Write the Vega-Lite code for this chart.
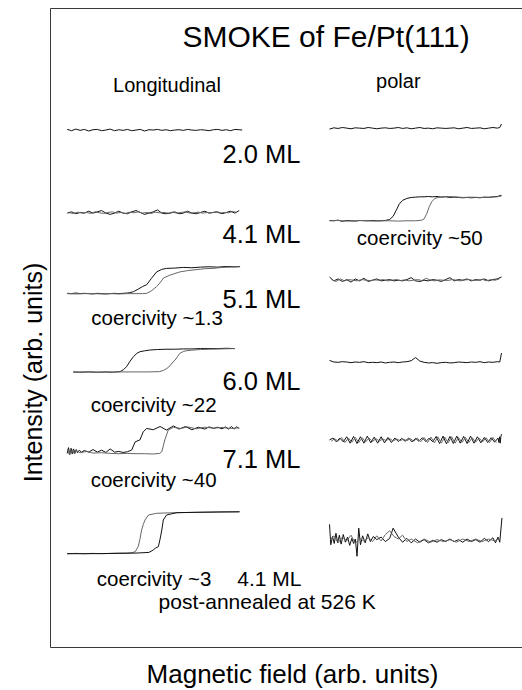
{
"$schema": "https://vega.github.io/schema/vega-lite/v6.json",
"width": 473,
"height": 639,
"autosize": {"type": "none"},
"padding": {"left": 50, "top": 8, "right": 0, "bottom": 43},
"background": "white",
"config": {"view": {"stroke": "#3a3a3a", "strokeWidth": 1}},
"datasets": {
"traces": [
{"id":"L20","br":"A","h":0,"m":81.0},{"id":"L20","br":"A","h":1,"m":80.8},{"id":"L20","br":"A","h":2,"m":81.05},{"id":"L20","br":"A","h":3,"m":80.85},{"id":"L20","br":"A","h":4,"m":81.0},{"id":"L20","br":"A","h":5,"m":80.75},{"id":"L20","br":"A","h":6,"m":80.95},{"id":"L20","br":"A","h":7,"m":81.0},{"id":"L20","br":"A","h":8,"m":80.8},{"id":"L20","br":"A","h":9,"m":80.9},{"id":"L20","br":"A","h":10,"m":81.05},{"id":"L20","br":"A","h":11,"m":80.8},{"id":"L20","br":"A","h":12,"m":80.95},{"id":"L20","br":"A","h":13,"m":80.85},{"id":"L20","br":"A","h":14,"m":81.0},{"id":"L20","br":"A","h":15,"m":80.8},{"id":"L20","br":"A","h":16,"m":80.9},{"id":"L20","br":"A","h":17,"m":81.0},{"id":"L20","br":"A","h":18,"m":80.75},{"id":"L20","br":"A","h":19,"m":80.95},{"id":"L20","br":"A","h":20,"m":80.9},{"id":"L20","br":"A","h":21,"m":81.0},{"id":"L20","br":"A","h":22,"m":80.85},{"id":"L20","br":"A","h":23,"m":80.95},{"id":"L20","br":"A","h":24,"m":80.8},{"id":"L20","br":"A","h":25,"m":80.9},{"id":"L20","br":"A","h":26,"m":80.95},{"id":"L20","br":"A","h":27,"m":80.85},{"id":"L20","br":"A","h":28,"m":81.0},{"id":"L20","br":"A","h":29,"m":80.9},{"id":"L20","br":"A","h":30,"m":80.85},{"id":"L20","br":"A","h":31,"m":80.95},{"id":"L20","br":"A","h":32,"m":80.9},{"id":"L20","br":"A","h":33,"m":80.8},{"id":"L20","br":"A","h":34,"m":80.95},{"id":"L20","br":"A","h":35,"m":81.0},{"id":"L20","br":"A","h":36,"m":80.85},{"id":"L20","br":"A","h":37,"m":80.95},{"id":"L20","br":"A","h":38,"m":80.8},{"id":"L20","br":"A","h":39,"m":81.0},{"id":"L20","br":"A","h":40,"m":80.95},{"id":"L20","br":"A","h":40.7,"m":80.9},

{"id":"P20","br":"A","h":61,"m":81.05},{"id":"P20","br":"A","h":62,"m":81.25},{"id":"P20","br":"A","h":63,"m":81.15},{"id":"P20","br":"A","h":64,"m":81.3},{"id":"P20","br":"A","h":65,"m":81.2},{"id":"P20","br":"A","h":66,"m":81.1},{"id":"P20","br":"A","h":67,"m":81.25},{"id":"P20","br":"A","h":68,"m":81.2},{"id":"P20","br":"A","h":69,"m":81.15},{"id":"P20","br":"A","h":70,"m":81.3},{"id":"P20","br":"A","h":71,"m":81.2},{"id":"P20","br":"A","h":72,"m":81.1},{"id":"P20","br":"A","h":73,"m":81.2},{"id":"P20","br":"A","h":74,"m":81.25},{"id":"P20","br":"A","h":75,"m":81.15},{"id":"P20","br":"A","h":76,"m":81.2},{"id":"P20","br":"A","h":77,"m":81.3},{"id":"P20","br":"A","h":78,"m":81.15},{"id":"P20","br":"A","h":79,"m":81.25},{"id":"P20","br":"A","h":80,"m":81.1},{"id":"P20","br":"A","h":81,"m":81.2},{"id":"P20","br":"A","h":82,"m":81.3},{"id":"P20","br":"A","h":83,"m":81.15},{"id":"P20","br":"A","h":84,"m":81.2},{"id":"P20","br":"A","h":85,"m":81.1},{"id":"P20","br":"A","h":86,"m":81.25},{"id":"P20","br":"A","h":87,"m":81.2},{"id":"P20","br":"A","h":88,"m":81.15},{"id":"P20","br":"A","h":89,"m":81.2},{"id":"P20","br":"A","h":90,"m":81.25},{"id":"P20","br":"A","h":91,"m":81.1},{"id":"P20","br":"A","h":92,"m":81.2},{"id":"P20","br":"A","h":93,"m":81.3},{"id":"P20","br":"A","h":94,"m":81.15},{"id":"P20","br":"A","h":95,"m":81.2},{"id":"P20","br":"A","h":96,"m":81.25},{"id":"P20","br":"A","h":97,"m":81.1},{"id":"P20","br":"A","h":98,"m":81.2},{"id":"P20","br":"A","h":99,"m":81.3},{"id":"P20","br":"A","h":100,"m":81.2},{"id":"P20","br":"A","h":100.6,"m":81.3},{"id":"P20","br":"A","h":101,"m":81.85},

{"id":"L41","br":"A","h":0,"m":67.9},{"id":"L41","br":"A","h":1,"m":68.1},{"id":"L41","br":"A","h":2,"m":67.8},{"id":"L41","br":"A","h":3,"m":68.0},{"id":"L41","br":"A","h":4,"m":67.9},{"id":"L41","br":"A","h":5,"m":68.2},{"id":"L41","br":"A","h":6,"m":67.9},{"id":"L41","br":"A","h":7,"m":68.1},{"id":"L41","br":"A","h":8,"m":68.3},{"id":"L41","br":"A","h":9,"m":67.9},{"id":"L41","br":"A","h":10,"m":67.7},{"id":"L41","br":"A","h":11,"m":67.9},{"id":"L41","br":"A","h":12,"m":68.2},{"id":"L41","br":"A","h":13,"m":67.9},{"id":"L41","br":"A","h":14,"m":67.8},{"id":"L41","br":"A","h":15,"m":68.1},{"id":"L41","br":"A","h":16,"m":68.3},{"id":"L41","br":"A","h":17,"m":68.0},{"id":"L41","br":"A","h":18,"m":67.7},{"id":"L41","br":"A","h":19,"m":67.9},{"id":"L41","br":"A","h":20,"m":68.1},{"id":"L41","br":"A","h":21,"m":68.4},{"id":"L41","br":"A","h":22,"m":67.9},{"id":"L41","br":"A","h":23,"m":67.8},{"id":"L41","br":"A","h":24,"m":67.9},{"id":"L41","br":"A","h":25,"m":68.1},{"id":"L41","br":"A","h":26,"m":67.8},{"id":"L41","br":"A","h":27,"m":67.9},{"id":"L41","br":"A","h":28,"m":68.2},{"id":"L41","br":"A","h":29,"m":67.9},{"id":"L41","br":"A","h":30,"m":67.8},{"id":"L41","br":"A","h":31,"m":68.0},{"id":"L41","br":"A","h":32,"m":68.2},{"id":"L41","br":"A","h":33,"m":67.9},{"id":"L41","br":"A","h":34,"m":68.0},{"id":"L41","br":"A","h":35,"m":68.1},{"id":"L41","br":"A","h":36,"m":67.8},{"id":"L41","br":"A","h":37,"m":68.0},{"id":"L41","br":"A","h":38,"m":68.2},{"id":"L41","br":"A","h":39,"m":67.9},{"id":"L41","br":"A","h":40,"m":68.3},
{"id":"L41b","br":"B","h":0.5,"m":67.95},{"id":"L41b","br":"B","h":1.5,"m":67.85},{"id":"L41b","br":"B","h":2.5,"m":68.05},{"id":"L41b","br":"B","h":3.5,"m":67.9},{"id":"L41b","br":"B","h":4.5,"m":68.0},{"id":"L41b","br":"B","h":5.5,"m":67.85},{"id":"L41b","br":"B","h":6.5,"m":68.1},{"id":"L41b","br":"B","h":7.5,"m":67.95},{"id":"L41b","br":"B","h":8.5,"m":67.85},{"id":"L41b","br":"B","h":9.5,"m":68.0},{"id":"L41b","br":"B","h":10.5,"m":68.1},{"id":"L41b","br":"B","h":11.5,"m":67.9},{"id":"L41b","br":"B","h":12.5,"m":68.0},{"id":"L41b","br":"B","h":13.5,"m":67.85},{"id":"L41b","br":"B","h":14.5,"m":68.05},{"id":"L41b","br":"B","h":15.5,"m":67.95},{"id":"L41b","br":"B","h":16.5,"m":68.1},{"id":"L41b","br":"B","h":17.5,"m":67.9},{"id":"L41b","br":"B","h":18.5,"m":68.0},{"id":"L41b","br":"B","h":19.5,"m":67.85},{"id":"L41b","br":"B","h":20.5,"m":68.05},{"id":"L41b","br":"B","h":21.5,"m":67.95},{"id":"L41b","br":"B","h":22.5,"m":68.0},{"id":"L41b","br":"B","h":23.5,"m":67.9},{"id":"L41b","br":"B","h":24.5,"m":68.05},{"id":"L41b","br":"B","h":25.5,"m":67.9},{"id":"L41b","br":"B","h":26.5,"m":68.0},{"id":"L41b","br":"B","h":27.5,"m":68.1},{"id":"L41b","br":"B","h":28.5,"m":67.9},{"id":"L41b","br":"B","h":29.5,"m":67.95},{"id":"L41b","br":"B","h":30.5,"m":68.05},{"id":"L41b","br":"B","h":31.5,"m":67.9},{"id":"L41b","br":"B","h":32.5,"m":68.0},{"id":"L41b","br":"B","h":33.5,"m":67.95},{"id":"L41b","br":"B","h":34.5,"m":68.1},{"id":"L41b","br":"B","h":35.5,"m":67.9},{"id":"L41b","br":"B","h":36.5,"m":68.0},{"id":"L41b","br":"B","h":37.5,"m":67.95},{"id":"L41b","br":"B","h":38.5,"m":68.15},{"id":"L41b","br":"B","h":39.5,"m":68.0},

{"id":"P41","br":"A","h":61,"m":66.75},{"id":"P41","br":"A","h":62,"m":66.7},{"id":"P41","br":"A","h":63,"m":66.8},{"id":"P41","br":"A","h":64,"m":66.6},{"id":"P41","br":"A","h":65,"m":66.75},{"id":"P41","br":"A","h":66,"m":66.7},{"id":"P41","br":"A","h":67,"m":66.65},{"id":"P41","br":"A","h":68,"m":66.75},{"id":"P41","br":"A","h":69,"m":66.7},{"id":"P41","br":"A","h":70,"m":66.7},{"id":"P41","br":"A","h":71,"m":66.75},{"id":"P41","br":"A","h":72,"m":66.7},{"id":"P41","br":"A","h":73,"m":66.7},{"id":"P41","br":"A","h":74,"m":66.75},{"id":"P41","br":"A","h":75,"m":66.9},{"id":"P41","br":"A","h":75.8,"m":67.4},{"id":"P41","br":"A","h":76.5,"m":68.3},{"id":"P41","br":"A","h":77.2,"m":69.3},{"id":"P41","br":"A","h":78,"m":69.9},{"id":"P41","br":"A","h":79,"m":70.2},{"id":"P41","br":"A","h":80,"m":70.35},{"id":"P41","br":"A","h":81,"m":70.4},{"id":"P41","br":"A","h":82,"m":70.45},{"id":"P41","br":"A","h":83,"m":70.45},{"id":"P41","br":"A","h":84,"m":70.5},{"id":"P41","br":"A","h":85,"m":70.45},{"id":"P41","br":"A","h":86,"m":70.5},{"id":"P41","br":"A","h":87,"m":70.4},{"id":"P41","br":"A","h":88,"m":70.45},{"id":"P41","br":"A","h":89,"m":70.35},{"id":"P41","br":"A","h":90,"m":70.4},{"id":"P41","br":"A","h":91,"m":70.35},{"id":"P41","br":"A","h":92,"m":70.3},{"id":"P41","br":"A","h":93,"m":70.35},{"id":"P41","br":"A","h":94,"m":70.3},{"id":"P41","br":"A","h":95,"m":70.35},{"id":"P41","br":"A","h":96,"m":70.3},{"id":"P41","br":"A","h":97,"m":70.4},{"id":"P41","br":"A","h":98,"m":70.35},{"id":"P41","br":"A","h":99,"m":70.45},{"id":"P41","br":"A","h":100,"m":70.5},{"id":"P41","br":"A","h":101,"m":70.7},
{"id":"P41b","br":"B","h":61,"m":66.7},{"id":"P41b","br":"B","h":63,"m":66.75},{"id":"P41b","br":"B","h":65,"m":66.65},{"id":"P41b","br":"B","h":67,"m":66.7},{"id":"P41b","br":"B","h":69,"m":66.75},{"id":"P41b","br":"B","h":71,"m":66.65},{"id":"P41b","br":"B","h":73,"m":66.7},{"id":"P41b","br":"B","h":75,"m":66.7},{"id":"P41b","br":"B","h":77,"m":66.65},{"id":"P41b","br":"B","h":79,"m":66.7},{"id":"P41b","br":"B","h":81,"m":66.7},{"id":"P41b","br":"B","h":82.5,"m":66.8},{"id":"P41b","br":"B","h":83,"m":67.0},{"id":"P41b","br":"B","h":83.6,"m":67.8},{"id":"P41b","br":"B","h":84.2,"m":68.9},{"id":"P41b","br":"B","h":84.8,"m":69.7},{"id":"P41b","br":"B","h":85.5,"m":70.2},{"id":"P41b","br":"B","h":86.5,"m":70.4},{"id":"P41b","br":"B","h":88,"m":70.5},{"id":"P41b","br":"B","h":90,"m":70.45},{"id":"P41b","br":"B","h":92,"m":70.35},{"id":"P41b","br":"B","h":94,"m":70.4},{"id":"P41b","br":"B","h":96,"m":70.35},{"id":"P41b","br":"B","h":98,"m":70.4},{"id":"P41b","br":"B","h":100,"m":70.45},{"id":"P41b","br":"B","h":101,"m":70.6},

{"id":"L51","br":"A","h":0,"m":55.35},{"id":"L51","br":"A","h":1,"m":55.3},{"id":"L51","br":"A","h":2,"m":55.4},{"id":"L51","br":"A","h":3,"m":55.3},{"id":"L51","br":"A","h":4,"m":55.35},{"id":"L51","br":"A","h":5,"m":55.3},{"id":"L51","br":"A","h":6,"m":55.25},{"id":"L51","br":"A","h":7,"m":55.35},{"id":"L51","br":"A","h":8,"m":55.3},{"id":"L51","br":"A","h":9,"m":55.25},{"id":"L51","br":"A","h":10,"m":55.3},{"id":"L51","br":"A","h":11,"m":55.35},{"id":"L51","br":"A","h":12,"m":55.3},{"id":"L51","br":"A","h":13,"m":55.35},{"id":"L51","br":"A","h":14,"m":55.4},{"id":"L51","br":"A","h":14.5,"m":55.45},{"id":"L51","br":"A","h":15.4,"m":55.6},{"id":"L51","br":"A","h":16.5,"m":56.0},{"id":"L51","br":"A","h":17.5,"m":56.4},{"id":"L51","br":"A","h":18.5,"m":56.7},{"id":"L51","br":"A","h":19.6,"m":57.7},{"id":"L51","br":"A","h":20.8,"m":58.7},{"id":"L51","br":"A","h":22,"m":59.1},{"id":"L51","br":"A","h":23.1,"m":59.25},{"id":"L51","br":"A","h":25,"m":59.3},{"id":"L51","br":"A","h":27,"m":59.4},{"id":"L51","br":"A","h":29,"m":59.35},{"id":"L51","br":"A","h":31,"m":59.45},{"id":"L51","br":"A","h":33,"m":59.5},{"id":"L51","br":"A","h":35,"m":59.45},{"id":"L51","br":"A","h":37,"m":59.55},{"id":"L51","br":"A","h":39,"m":59.5},{"id":"L51","br":"A","h":40.2,"m":59.55},
{"id":"L51b","br":"B","h":0,"m":55.3},{"id":"L51b","br":"B","h":2,"m":55.25},{"id":"L51b","br":"B","h":4,"m":55.3},{"id":"L51b","br":"B","h":6,"m":55.3},{"id":"L51b","br":"B","h":8,"m":55.25},{"id":"L51b","br":"B","h":10,"m":55.3},{"id":"L51b","br":"B","h":12,"m":55.25},{"id":"L51b","br":"B","h":14,"m":55.3},{"id":"L51b","br":"B","h":16,"m":55.3},{"id":"L51b","br":"B","h":17.5,"m":55.3},{"id":"L51b","br":"B","h":18.5,"m":55.35},{"id":"L51b","br":"B","h":19.5,"m":55.7},{"id":"L51b","br":"B","h":20.8,"m":56.4},{"id":"L51b","br":"B","h":21.6,"m":57.0},{"id":"L51b","br":"B","h":22.4,"m":57.75},{"id":"L51b","br":"B","h":23.9,"m":58.2},{"id":"L51b","br":"B","h":26.2,"m":58.7},{"id":"L51b","br":"B","h":28,"m":58.9},{"id":"L51b","br":"B","h":30,"m":59.05},{"id":"L51b","br":"B","h":32,"m":59.2},{"id":"L51b","br":"B","h":33.9,"m":59.25},{"id":"L51b","br":"B","h":36,"m":59.4},{"id":"L51b","br":"B","h":38,"m":59.45},{"id":"L51b","br":"B","h":40.2,"m":59.5},

{"id":"P51","br":"A","h":61,"m":57.9},{"id":"P51","br":"A","h":62,"m":57.3},{"id":"P51","br":"A","h":63,"m":57.6},{"id":"P51","br":"A","h":64,"m":57.2},{"id":"P51","br":"A","h":65,"m":57.5},{"id":"P51","br":"A","h":66,"m":57.1},{"id":"P51","br":"A","h":67,"m":57.6},{"id":"P51","br":"A","h":68,"m":57.3},{"id":"P51","br":"A","h":69,"m":57.7},{"id":"P51","br":"A","h":70,"m":57.2},{"id":"P51","br":"A","h":71,"m":57.4},{"id":"P51","br":"A","h":72,"m":57.6},{"id":"P51","br":"A","h":73,"m":57.3},{"id":"P51","br":"A","h":74,"m":57.4},{"id":"P51","br":"A","h":75,"m":57.5},{"id":"P51","br":"A","h":76,"m":57.3},{"id":"P51","br":"A","h":77,"m":57.4},{"id":"P51","br":"A","h":78,"m":57.3},{"id":"P51","br":"A","h":79,"m":57.5},{"id":"P51","br":"A","h":80,"m":57.8},{"id":"P51","br":"A","h":81,"m":57.3},{"id":"P51","br":"A","h":82,"m":57.2},{"id":"P51","br":"A","h":83,"m":57.4},{"id":"P51","br":"A","h":84,"m":57.3},{"id":"P51","br":"A","h":85,"m":57.5},{"id":"P51","br":"A","h":86,"m":57.4},{"id":"P51","br":"A","h":87,"m":57.2},{"id":"P51","br":"A","h":88,"m":57.5},{"id":"P51","br":"A","h":89,"m":57.8},{"id":"P51","br":"A","h":90,"m":57.3},{"id":"P51","br":"A","h":91,"m":57.5},{"id":"P51","br":"A","h":92,"m":57.4},{"id":"P51","br":"A","h":93,"m":57.6},{"id":"P51","br":"A","h":94,"m":57.3},{"id":"P51","br":"A","h":95,"m":57.5},{"id":"P51","br":"A","h":96,"m":57.4},{"id":"P51","br":"A","h":97,"m":57.6},{"id":"P51","br":"A","h":98,"m":57.3},{"id":"P51","br":"A","h":99,"m":57.5},{"id":"P51","br":"A","h":100,"m":57.6},{"id":"P51","br":"A","h":101,"m":57.9},
{"id":"P51b","br":"B","h":61.5,"m":57.5},{"id":"P51b","br":"B","h":62.5,"m":57.2},{"id":"P51b","br":"B","h":63.5,"m":57.6},{"id":"P51b","br":"B","h":64.5,"m":57.3},{"id":"P51b","br":"B","h":65.5,"m":57.5},{"id":"P51b","br":"B","h":66.5,"m":57.4},{"id":"P51b","br":"B","h":67.5,"m":57.3},{"id":"P51b","br":"B","h":68.5,"m":57.5},{"id":"P51b","br":"B","h":69.5,"m":57.4},{"id":"P51b","br":"B","h":70.5,"m":57.35},{"id":"P51b","br":"B","h":71.5,"m":57.45},{"id":"P51b","br":"B","h":72.5,"m":57.4},{"id":"P51b","br":"B","h":73.5,"m":57.5},{"id":"P51b","br":"B","h":74.5,"m":57.3},{"id":"P51b","br":"B","h":75.5,"m":57.4},{"id":"P51b","br":"B","h":76.5,"m":57.5},{"id":"P51b","br":"B","h":77.5,"m":57.35},{"id":"P51b","br":"B","h":78.5,"m":57.45},{"id":"P51b","br":"B","h":79.5,"m":57.3},{"id":"P51b","br":"B","h":80.5,"m":57.4},{"id":"P51b","br":"B","h":81.5,"m":57.5},{"id":"P51b","br":"B","h":82.5,"m":57.35},{"id":"P51b","br":"B","h":83.5,"m":57.7},{"id":"P51b","br":"B","h":84.5,"m":57.4},{"id":"P51b","br":"B","h":85.5,"m":57.3},{"id":"P51b","br":"B","h":86.5,"m":57.45},{"id":"P51b","br":"B","h":87.5,"m":57.4},{"id":"P51b","br":"B","h":88.5,"m":57.35},{"id":"P51b","br":"B","h":89.5,"m":57.5},{"id":"P51b","br":"B","h":90.5,"m":57.4},{"id":"P51b","br":"B","h":91.5,"m":57.3},{"id":"P51b","br":"B","h":92.5,"m":57.45},{"id":"P51b","br":"B","h":93.5,"m":57.5},{"id":"P51b","br":"B","h":94.5,"m":57.35},{"id":"P51b","br":"B","h":95.5,"m":57.4},{"id":"P51b","br":"B","h":96.5,"m":57.55},{"id":"P51b","br":"B","h":97.5,"m":57.3},{"id":"P51b","br":"B","h":98.5,"m":57.5},{"id":"P51b","br":"B","h":99.5,"m":57.4},{"id":"P51b","br":"B","h":100.5,"m":57.6},

{"id":"L60","br":"A","h":1.4,"m":43.05},{"id":"L60","br":"A","h":3,"m":43.0},{"id":"L60","br":"A","h":5,"m":43.05},{"id":"L60","br":"A","h":7,"m":43.0},{"id":"L60","br":"A","h":9,"m":43.05},{"id":"L60","br":"A","h":10.5,"m":43.0},{"id":"L60","br":"A","h":11.5,"m":43.05},{"id":"L60","br":"A","h":12.3,"m":43.1},{"id":"L60","br":"A","h":13.1,"m":43.4},{"id":"L60","br":"A","h":13.8,"m":43.87},{"id":"L60","br":"A","h":14.6,"m":44.7},{"id":"L60","br":"A","h":15.4,"m":45.43},{"id":"L60","br":"A","h":16.2,"m":45.95},{"id":"L60","br":"A","h":16.9,"m":46.21},{"id":"L60","br":"A","h":18,"m":46.35},{"id":"L60","br":"A","h":19.3,"m":46.48},{"id":"L60","br":"A","h":21,"m":46.55},{"id":"L60","br":"A","h":23,"m":46.6},{"id":"L60","br":"A","h":25,"m":46.6},{"id":"L60","br":"A","h":27,"m":46.65},{"id":"L60","br":"A","h":29,"m":46.65},{"id":"L60","br":"A","h":31,"m":46.7},{"id":"L60","br":"A","h":33,"m":46.7},{"id":"L60","br":"A","h":35,"m":46.7},{"id":"L60","br":"A","h":37,"m":46.75},{"id":"L60","br":"A","h":39,"m":46.7},
{"id":"L60b","br":"B","h":1.4,"m":43.0},{"id":"L60b","br":"B","h":4,"m":43.05},{"id":"L60b","br":"B","h":8,"m":43.0},{"id":"L60b","br":"B","h":12,"m":43.05},{"id":"L60b","br":"B","h":16,"m":43.05},{"id":"L60b","br":"B","h":19,"m":43.05},{"id":"L60b","br":"B","h":21.5,"m":43.1},{"id":"L60b","br":"B","h":22.4,"m":43.3},{"id":"L60b","br":"B","h":23.2,"m":43.6},{"id":"L60b","br":"B","h":23.9,"m":44.0},{"id":"L60b","br":"B","h":24.6,"m":44.6},{"id":"L60b","br":"B","h":25.1,"m":44.91},{"id":"L60b","br":"B","h":25.7,"m":45.5},{"id":"L60b","br":"B","h":26.2,"m":45.96},{"id":"L60b","br":"B","h":27,"m":46.25},{"id":"L60b","br":"B","h":27.8,"m":46.37},{"id":"L60b","br":"B","h":29,"m":46.45},{"id":"L60b","br":"B","h":31,"m":46.55},{"id":"L60b","br":"B","h":33,"m":46.6},{"id":"L60b","br":"B","h":36,"m":46.65},{"id":"L60b","br":"B","h":39,"m":46.7},

{"id":"P60","br":"A","h":61,"m":44.85},{"id":"P60","br":"A","h":62,"m":44.6},{"id":"P60","br":"A","h":63,"m":44.55},{"id":"P60","br":"A","h":64,"m":44.65},{"id":"P60","br":"A","h":65,"m":44.6},{"id":"P60","br":"A","h":66,"m":44.5},{"id":"P60","br":"A","h":67,"m":44.6},{"id":"P60","br":"A","h":68,"m":44.55},{"id":"P60","br":"A","h":69,"m":44.65},{"id":"P60","br":"A","h":70,"m":44.5},{"id":"P60","br":"A","h":71,"m":44.55},{"id":"P60","br":"A","h":72,"m":44.5},{"id":"P60","br":"A","h":73,"m":44.6},{"id":"P60","br":"A","h":74,"m":44.45},{"id":"P60","br":"A","h":75,"m":44.55},{"id":"P60","br":"A","h":76,"m":44.6},{"id":"P60","br":"A","h":77,"m":44.5},{"id":"P60","br":"A","h":78,"m":44.6},{"id":"P60","br":"A","h":79,"m":44.65},{"id":"P60","br":"A","h":80,"m":44.8},{"id":"P60","br":"A","h":81,"m":45.3},{"id":"P60","br":"A","h":82,"m":44.75},{"id":"P60","br":"A","h":83,"m":44.55},{"id":"P60","br":"A","h":84,"m":44.45},{"id":"P60","br":"A","h":85,"m":44.5},{"id":"P60","br":"A","h":86,"m":44.4},{"id":"P60","br":"A","h":87,"m":44.5},{"id":"P60","br":"A","h":88,"m":44.55},{"id":"P60","br":"A","h":89,"m":44.45},{"id":"P60","br":"A","h":90,"m":44.5},{"id":"P60","br":"A","h":91,"m":44.6},{"id":"P60","br":"A","h":92,"m":44.55},{"id":"P60","br":"A","h":93,"m":44.5},{"id":"P60","br":"A","h":94,"m":44.6},{"id":"P60","br":"A","h":95,"m":44.55},{"id":"P60","br":"A","h":96,"m":44.65},{"id":"P60","br":"A","h":97,"m":44.5},{"id":"P60","br":"A","h":98,"m":44.6},{"id":"P60","br":"A","h":99,"m":44.55},{"id":"P60","br":"A","h":100,"m":44.65},{"id":"P60","br":"A","h":100.6,"m":44.6},{"id":"P60","br":"A","h":101,"m":46.0},

{"id":"L71","br":"A","h":0,"m":30.3},{"id":"L71","br":"A","h":0.3,"m":31.2},{"id":"L71","br":"A","h":0.6,"m":30.1},{"id":"L71","br":"A","h":0.9,"m":31.1},{"id":"L71","br":"A","h":1.2,"m":30.2},{"id":"L71","br":"A","h":1.5,"m":31.0},{"id":"L71","br":"A","h":1.8,"m":30.3},{"id":"L71","br":"A","h":2.1,"m":30.9},{"id":"L71","br":"A","h":2.4,"m":30.4},{"id":"L71","br":"A","h":2.8,"m":30.8},{"id":"L71","br":"A","h":3.3,"m":30.5},{"id":"L71","br":"A","h":4,"m":30.75},{"id":"L71","br":"A","h":5,"m":30.5},{"id":"L71","br":"A","h":6,"m":30.9},{"id":"L71","br":"A","h":7,"m":30.5},{"id":"L71","br":"A","h":8,"m":30.8},{"id":"L71","br":"A","h":9,"m":30.45},{"id":"L71","br":"A","h":10,"m":31.0},{"id":"L71","br":"A","h":11,"m":30.5},{"id":"L71","br":"A","h":12,"m":30.6},{"id":"L71","br":"A","h":13,"m":30.45},{"id":"L71","br":"A","h":14,"m":30.55},{"id":"L71","br":"A","h":15,"m":30.83},{"id":"L71","br":"A","h":15.8,"m":32.1},{"id":"L71","br":"A","h":16.9,"m":32.4},{"id":"L71","br":"A","h":17.7,"m":33.7},{"id":"L71","br":"A","h":18.5,"m":34.2},{"id":"L71","br":"A","h":20,"m":34.0},{"id":"L71","br":"A","h":21.6,"m":34.5},{"id":"L71","br":"A","h":23.1,"m":33.95},{"id":"L71","br":"A","h":24.7,"m":34.6},{"id":"L71","br":"A","h":26,"m":34.1},{"id":"L71","br":"A","h":27.5,"m":34.5},{"id":"L71","br":"A","h":29,"m":34.0},{"id":"L71","br":"A","h":30.5,"m":34.4},{"id":"L71","br":"A","h":32,"m":34.1},{"id":"L71","br":"A","h":33,"m":34.45},{"id":"L71","br":"A","h":34,"m":34.2},{"id":"L71","br":"A","h":35,"m":34.4},{"id":"L71","br":"A","h":36,"m":34.15},{"id":"L71","br":"A","h":36.8,"m":34.45},{"id":"L71","br":"A","h":37.5,"m":34.1},{"id":"L71","br":"A","h":38.2,"m":34.5},{"id":"L71","br":"A","h":38.8,"m":34.1},{"id":"L71","br":"A","h":39.4,"m":34.45},{"id":"L71","br":"A","h":40,"m":34.2},
{"id":"L71b","br":"B","h":0.15,"m":30.9},{"id":"L71b","br":"B","h":0.45,"m":30.2},{"id":"L71b","br":"B","h":0.75,"m":31.0},{"id":"L71b","br":"B","h":1.05,"m":30.3},{"id":"L71b","br":"B","h":1.35,"m":30.9},{"id":"L71b","br":"B","h":1.65,"m":30.2},{"id":"L71b","br":"B","h":2,"m":30.8},{"id":"L71b","br":"B","h":3,"m":30.4},{"id":"L71b","br":"B","h":4.5,"m":30.6},{"id":"L71b","br":"B","h":6,"m":30.35},{"id":"L71b","br":"B","h":8,"m":30.4},{"id":"L71b","br":"B","h":10,"m":30.3},{"id":"L71b","br":"B","h":12,"m":30.25},{"id":"L71b","br":"B","h":14,"m":30.3},{"id":"L71b","br":"B","h":16,"m":30.25},{"id":"L71b","br":"B","h":18,"m":30.25},{"id":"L71b","br":"B","h":20,"m":30.2},{"id":"L71b","br":"B","h":21.5,"m":30.3},{"id":"L71b","br":"B","h":22,"m":30.56},{"id":"L71b","br":"B","h":22.7,"m":32.4},{"id":"L71b","br":"B","h":23.5,"m":33.96},{"id":"L71b","br":"B","h":24.7,"m":34.38},{"id":"L71b","br":"B","h":26.5,"m":34.2},{"id":"L71b","br":"B","h":28,"m":34.45},{"id":"L71b","br":"B","h":30,"m":34.15},{"id":"L71b","br":"B","h":32,"m":34.4},{"id":"L71b","br":"B","h":34,"m":34.25},{"id":"L71b","br":"B","h":36,"m":34.35},{"id":"L71b","br":"B","h":38,"m":34.2},{"id":"L71b","br":"B","h":40,"m":34.3},

{"id":"P71","br":"A","h":61,"m":32.4},{"id":"P71","br":"A","h":61.8,"m":32.7},{"id":"P71","br":"A","h":62.6,"m":32.1},{"id":"P71","br":"A","h":63.4,"m":32.7},{"id":"P71","br":"A","h":64.2,"m":32.1},{"id":"P71","br":"A","h":65,"m":32.9},{"id":"P71","br":"A","h":65.8,"m":31.9},{"id":"P71","br":"A","h":66.6,"m":32.95},{"id":"P71","br":"A","h":67.4,"m":31.85},{"id":"P71","br":"A","h":68.2,"m":32.9},{"id":"P71","br":"A","h":69,"m":31.9},{"id":"P71","br":"A","h":69.8,"m":33.0},{"id":"P71","br":"A","h":70.6,"m":31.95},{"id":"P71","br":"A","h":71.4,"m":32.85},{"id":"P71","br":"A","h":72.2,"m":31.9},{"id":"P71","br":"A","h":73,"m":32.9},{"id":"P71","br":"A","h":73.8,"m":31.95},{"id":"P71","br":"A","h":74.6,"m":32.8},{"id":"P71","br":"A","h":75.4,"m":32.0},{"id":"P71","br":"A","h":76.2,"m":32.7},{"id":"P71","br":"A","h":77,"m":32.15},{"id":"P71","br":"A","h":77.8,"m":32.65},{"id":"P71","br":"A","h":78.6,"m":32.2},{"id":"P71","br":"A","h":79.4,"m":32.7},{"id":"P71","br":"A","h":80.2,"m":32.1},{"id":"P71","br":"A","h":81,"m":32.65},{"id":"P71","br":"A","h":81.8,"m":32.2},{"id":"P71","br":"A","h":82.6,"m":32.75},{"id":"P71","br":"A","h":83.4,"m":32.15},{"id":"P71","br":"A","h":84.2,"m":32.7},{"id":"P71","br":"A","h":85,"m":32.1},{"id":"P71","br":"A","h":85.8,"m":32.95},{"id":"P71","br":"A","h":86.6,"m":31.85},{"id":"P71","br":"A","h":87.4,"m":33.0},{"id":"P71","br":"A","h":88.2,"m":31.8},{"id":"P71","br":"A","h":89,"m":32.95},{"id":"P71","br":"A","h":89.8,"m":31.85},{"id":"P71","br":"A","h":90.6,"m":33.0},{"id":"P71","br":"A","h":91.4,"m":31.9},{"id":"P71","br":"A","h":92.2,"m":32.95},{"id":"P71","br":"A","h":93,"m":31.85},{"id":"P71","br":"A","h":93.8,"m":33.0},{"id":"P71","br":"A","h":94.6,"m":31.9},{"id":"P71","br":"A","h":95.4,"m":32.9},{"id":"P71","br":"A","h":96.2,"m":31.95},{"id":"P71","br":"A","h":97,"m":32.8},{"id":"P71","br":"A","h":97.8,"m":32.0},{"id":"P71","br":"A","h":98.6,"m":32.75},{"id":"P71","br":"A","h":99.4,"m":32.05},{"id":"P71","br":"A","h":100.2,"m":32.7},{"id":"P71","br":"A","h":100.4,"m":32.0},{"id":"P71","br":"A","h":100.55,"m":32.9},{"id":"P71","br":"A","h":100.7,"m":31.9},{"id":"P71","br":"A","h":100.85,"m":32.9},{"id":"P71","br":"A","h":101,"m":33.3},
{"id":"P71b","br":"B","h":61.4,"m":32.2},{"id":"P71b","br":"B","h":62.2,"m":32.6},{"id":"P71b","br":"B","h":63,"m":32.2},{"id":"P71b","br":"B","h":63.8,"m":32.8},{"id":"P71b","br":"B","h":64.6,"m":32.0},{"id":"P71b","br":"B","h":65.4,"m":32.7},{"id":"P71b","br":"B","h":66.2,"m":32.05},{"id":"P71b","br":"B","h":67,"m":32.8},{"id":"P71b","br":"B","h":67.8,"m":32.0},{"id":"P71b","br":"B","h":68.6,"m":32.75},{"id":"P71b","br":"B","h":69.4,"m":32.1},{"id":"P71b","br":"B","h":70.2,"m":32.7},{"id":"P71b","br":"B","h":71,"m":32.15},{"id":"P71b","br":"B","h":71.8,"m":32.6},{"id":"P71b","br":"B","h":72.6,"m":32.25},{"id":"P71b","br":"B","h":73.4,"m":32.55},{"id":"P71b","br":"B","h":74.2,"m":32.3},{"id":"P71b","br":"B","h":75,"m":32.6},{"id":"P71b","br":"B","h":75.8,"m":32.25},{"id":"P71b","br":"B","h":76.6,"m":32.55},{"id":"P71b","br":"B","h":77.4,"m":32.3},{"id":"P71b","br":"B","h":78.2,"m":32.5},{"id":"P71b","br":"B","h":79,"m":32.3},{"id":"P71b","br":"B","h":79.8,"m":32.6},{"id":"P71b","br":"B","h":80.6,"m":32.2},{"id":"P71b","br":"B","h":81.4,"m":32.7},{"id":"P71b","br":"B","h":82.2,"m":32.1},{"id":"P71b","br":"B","h":83,"m":32.8},{"id":"P71b","br":"B","h":83.8,"m":32.0},{"id":"P71b","br":"B","h":84.6,"m":32.85},{"id":"P71b","br":"B","h":85.4,"m":31.95},{"id":"P71b","br":"B","h":86.2,"m":32.9},{"id":"P71b","br":"B","h":87,"m":31.9},{"id":"P71b","br":"B","h":87.8,"m":32.85},{"id":"P71b","br":"B","h":88.6,"m":31.95},{"id":"P71b","br":"B","h":89.4,"m":32.9},{"id":"P71b","br":"B","h":90.2,"m":31.9},{"id":"P71b","br":"B","h":91,"m":32.8},{"id":"P71b","br":"B","h":91.8,"m":32.0},{"id":"P71b","br":"B","h":92.6,"m":32.8},{"id":"P71b","br":"B","h":93.4,"m":32.0},{"id":"P71b","br":"B","h":94.2,"m":32.75},{"id":"P71b","br":"B","h":95,"m":32.05},{"id":"P71b","br":"B","h":95.8,"m":32.7},{"id":"P71b","br":"B","h":96.6,"m":32.1},{"id":"P71b","br":"B","h":97.4,"m":32.75},{"id":"P71b","br":"B","h":98.2,"m":32.0},{"id":"P71b","br":"B","h":99,"m":32.8},{"id":"P71b","br":"B","h":99.8,"m":32.0},

{"id":"LA","br":"B","h":0,"m":14.6},{"id":"LA","br":"B","h":2,"m":14.65},{"id":"LA","br":"B","h":4,"m":14.6},{"id":"LA","br":"B","h":6,"m":14.65},{"id":"LA","br":"B","h":8,"m":14.6},{"id":"LA","br":"B","h":10,"m":14.65},{"id":"LA","br":"B","h":12,"m":14.7},{"id":"LA","br":"B","h":14,"m":14.7},{"id":"LA","br":"B","h":15,"m":14.75},{"id":"LA","br":"B","h":15.8,"m":14.91},{"id":"LA","br":"B","h":16.5,"m":15.7},{"id":"LA","br":"B","h":16.9,"m":16.8},{"id":"LA","br":"B","h":17.3,"m":18.3},{"id":"LA","br":"B","h":17.7,"m":19.2},{"id":"LA","br":"B","h":18.1,"m":19.87},{"id":"LA","br":"B","h":18.9,"m":20.66},{"id":"LA","br":"B","h":20.8,"m":20.92},{"id":"LA","br":"B","h":24,"m":21.0},{"id":"LA","br":"B","h":28,"m":21.05},{"id":"LA","br":"B","h":32,"m":21.1},{"id":"LA","br":"B","h":36,"m":21.15},{"id":"LA","br":"B","h":40.2,"m":21.17},
{"id":"LAb","br":"A","h":0,"m":14.6},{"id":"LAb","br":"A","h":4,"m":14.6},{"id":"LAb","br":"A","h":8,"m":14.62},{"id":"LAb","br":"A","h":12,"m":14.65},{"id":"LAb","br":"A","h":16,"m":14.7},{"id":"LAb","br":"A","h":19,"m":14.8},{"id":"LAb","br":"A","h":20,"m":15.18},{"id":"LAb","br":"A","h":20.6,"m":15.5},{"id":"LAb","br":"A","h":21.2,"m":15.7},{"id":"LAb","br":"A","h":21.6,"m":16.9},{"id":"LAb","br":"A","h":22,"m":18.31},{"id":"LAb","br":"A","h":22.35,"m":19.87},{"id":"LAb","br":"A","h":23.1,"m":20.66},{"id":"LAb","br":"A","h":25.5,"m":21.02},{"id":"LAb","br":"A","h":30,"m":21.08},{"id":"LAb","br":"A","h":35,"m":21.12},{"id":"LAb","br":"A","h":40,"m":21.15},

{"id":"PA","br":"A","h":61,"m":19.2},{"id":"PA","br":"A","h":61.3,"m":16.0},{"id":"PA","br":"A","h":61.7,"m":17.3},{"id":"PA","br":"A","h":62.1,"m":16.2},{"id":"PA","br":"A","h":62.5,"m":17.8},{"id":"PA","br":"A","h":62.9,"m":16.3},{"id":"PA","br":"A","h":63.3,"m":17.5},{"id":"PA","br":"A","h":63.7,"m":16.1},{"id":"PA","br":"A","h":64.2,"m":17.6},{"id":"PA","br":"A","h":64.7,"m":16.4},{"id":"PA","br":"A","h":65.2,"m":17.2},{"id":"PA","br":"A","h":65.7,"m":15.9},{"id":"PA","br":"A","h":66.2,"m":17.0},{"id":"PA","br":"A","h":66.6,"m":16.2},{"id":"PA","br":"A","h":67.0,"m":16.9},{"id":"PA","br":"A","h":67.4,"m":14.2},{"id":"PA","br":"A","h":67.8,"m":18.6},{"id":"PA","br":"A","h":68.2,"m":16.0},{"id":"PA","br":"A","h":68.7,"m":17.4},{"id":"PA","br":"A","h":69.3,"m":16.3},{"id":"PA","br":"A","h":69.9,"m":17.7},{"id":"PA","br":"A","h":70.5,"m":16.5},{"id":"PA","br":"A","h":71.2,"m":17.3},{"id":"PA","br":"A","h":72,"m":16.8},{"id":"PA","br":"A","h":73,"m":17.2},{"id":"PA","br":"A","h":74,"m":16.5},{"id":"PA","br":"A","h":75,"m":17.0},{"id":"PA","br":"A","h":75.8,"m":18.6},{"id":"PA","br":"A","h":77,"m":17.2},{"id":"PA","br":"A","h":78,"m":16.4},{"id":"PA","br":"A","h":79,"m":17.0},{"id":"PA","br":"A","h":80,"m":16.3},{"id":"PA","br":"A","h":81,"m":16.9},{"id":"PA","br":"A","h":82,"m":16.4},{"id":"PA","br":"A","h":83,"m":16.8},{"id":"PA","br":"A","h":84,"m":16.3},{"id":"PA","br":"A","h":85,"m":16.7},{"id":"PA","br":"A","h":86,"m":16.4},{"id":"PA","br":"A","h":87,"m":16.8},{"id":"PA","br":"A","h":88,"m":16.5},{"id":"PA","br":"A","h":89,"m":16.9},{"id":"PA","br":"A","h":90,"m":16.5},{"id":"PA","br":"A","h":91,"m":16.8},{"id":"PA","br":"A","h":92,"m":16.4},{"id":"PA","br":"A","h":93,"m":16.9},{"id":"PA","br":"A","h":94,"m":16.5},{"id":"PA","br":"A","h":95,"m":16.8},{"id":"PA","br":"A","h":96,"m":16.4},{"id":"PA","br":"A","h":97,"m":17.0},{"id":"PA","br":"A","h":98,"m":16.5},{"id":"PA","br":"A","h":99,"m":17.1},{"id":"PA","br":"A","h":99.6,"m":16.3},{"id":"PA","br":"A","h":100.2,"m":17.2},{"id":"PA","br":"A","h":100.6,"m":16.4},{"id":"PA","br":"A","h":101.1,"m":20.2},
{"id":"PAb","br":"B","h":61.2,"m":16.8},{"id":"PAb","br":"B","h":62,"m":17.4},{"id":"PAb","br":"B","h":63,"m":16.3},{"id":"PAb","br":"B","h":64,"m":17.2},{"id":"PAb","br":"B","h":65,"m":16.6},{"id":"PAb","br":"B","h":66,"m":17.5},{"id":"PAb","br":"B","h":67,"m":16.2},{"id":"PAb","br":"B","h":68,"m":17.0},{"id":"PAb","br":"B","h":69,"m":16.6},{"id":"PAb","br":"B","h":70,"m":17.1},{"id":"PAb","br":"B","h":71,"m":16.5},{"id":"PAb","br":"B","h":72,"m":17.4},{"id":"PAb","br":"B","h":73,"m":16.6},{"id":"PAb","br":"B","h":74,"m":17.6},{"id":"PAb","br":"B","h":75,"m":18.2},{"id":"PAb","br":"B","h":76,"m":17.3},{"id":"PAb","br":"B","h":77,"m":16.9},{"id":"PAb","br":"B","h":78,"m":17.5},{"id":"PAb","br":"B","h":79,"m":16.5},{"id":"PAb","br":"B","h":80,"m":16.9},{"id":"PAb","br":"B","h":81.5,"m":16.3},{"id":"PAb","br":"B","h":83,"m":16.9},{"id":"PAb","br":"B","h":84.5,"m":16.4},{"id":"PAb","br":"B","h":86,"m":16.8},{"id":"PAb","br":"B","h":87.5,"m":16.5},{"id":"PAb","br":"B","h":89,"m":16.8},{"id":"PAb","br":"B","h":90.5,"m":16.4},{"id":"PAb","br":"B","h":92,"m":16.9},{"id":"PAb","br":"B","h":93.5,"m":16.5},{"id":"PAb","br":"B","h":95,"m":16.9},{"id":"PAb","br":"B","h":96.5,"m":16.5},{"id":"PAb","br":"B","h":98,"m":16.9},{"id":"PAb","br":"B","h":99.5,"m":16.6},{"id":"PAb","br":"B","h":100.5,"m":17.0}
],
"labels": [
{"kind":"title","label":"SMOKE of Fe/Pt(111)","h":60.2,"m":93.9},
{"kind":"head","label":"Longitudinal","h":23.2,"m":86.9},
{"kind":"head","label":"polar","h":77.0,"m":87.5},
{"kind":"ml","label":"2.0 ML","h":45.2,"m":75.7},
{"kind":"ml","label":"4.1 ML","h":45.2,"m":63.2},
{"kind":"ml","label":"5.1 ML","h":45.2,"m":53.1},
{"kind":"ml","label":"6.0 ML","h":45.2,"m":40.2},
{"kind":"ml","label":"7.1 ML","h":45.2,"m":28.0},
{"kind":"coer","label":"coercivity ~50","h":82.0,"m":62.9},
{"kind":"coer","label":"coercivity ~1.3","h":20.9,"m":50.4},
{"kind":"coer","label":"coercivity ~22","h":20.1,"m":36.8},
{"kind":"coer","label":"coercivity ~40","h":20.1,"m":25.0},
{"kind":"coer","label":"coercivity ~3","h":20.2,"m":9.6},
{"kind":"anneal","label":"4.1 ML","h":47.0,"m":9.6},
{"kind":"anneal","label":"post-annealed at 526 K","h":46.5,"m":6.0}
]
},
"encoding": {
"x": {"field": "h", "type": "quantitative", "scale": {"domain": [-4, 106], "nice": false, "zero": false},
 "axis": {"title": "Magnetic field (arb. units)", "labels": false, "ticks": false, "grid": false, "domain": false, "titleFont": "Liberation Sans", "titleFontSize": 26, "titleFontWeight": "normal", "titleColor": "#000000", "titleX": 242, "titleY": 35, "titleBaseline": "alphabetic", "titleAlign": "center"}},
"y": {"field": "m", "type": "quantitative", "scale": {"domain": [0, 100], "nice": false, "zero": false},
 "axis": {"title": "Intensity (arb. units)", "labels": false, "ticks": false, "grid": false, "domain": false, "titleFont": "Liberation Sans", "titleFontSize": 25, "titleFontWeight": "normal", "titleColor": "#000000", "titleX": -9, "titleY": 364, "titleBaseline": "alphabetic", "titleAlign": "center", "titleAngle": 270}}
},
"layer": [
{"data": {"name": "traces"}, "mark": {"type": "line", "strokeWidth": 1},
 "encoding": {"detail": {"field": "id"}, "color": {"field": "br", "type": "nominal", "scale": {"domain": ["A", "B"], "range": ["#111111", "#666666"]}, "legend": null}}},
{"data": {"name": "labels"}, "transform": [{"filter": "datum.kind === 'title'"}],
 "mark": {"type": "text", "font": "Liberation Sans", "fontSize": 30, "align": "center", "baseline": "alphabetic", "color": "#000000"},
 "encoding": {"text": {"field": "label"}}},
{"data": {"name": "labels"}, "transform": [{"filter": "datum.kind === 'head'"}],
 "mark": {"type": "text", "font": "Liberation Sans", "fontSize": 20, "align": "center", "baseline": "alphabetic", "color": "#000000"},
 "encoding": {"text": {"field": "label"}}},
{"data": {"name": "labels"}, "transform": [{"filter": "datum.kind === 'ml'"}],
 "mark": {"type": "text", "font": "Liberation Sans", "fontSize": 25.5, "align": "center", "baseline": "alphabetic", "color": "#000000"},
 "encoding": {"text": {"field": "label"}}},
{"data": {"name": "labels"}, "transform": [{"filter": "datum.kind === 'coer'"}],
 "mark": {"type": "text", "font": "Liberation Sans", "fontSize": 20.5, "align": "center", "baseline": "alphabetic", "color": "#000000"},
 "encoding": {"text": {"field": "label"}}},
{"data": {"name": "labels"}, "transform": [{"filter": "datum.kind === 'anneal'"}],
 "mark": {"type": "text", "font": "Liberation Sans", "fontSize": 21, "align": "center", "baseline": "alphabetic", "color": "#000000"},
 "encoding": {"text": {"field": "label"}}}
]
}
